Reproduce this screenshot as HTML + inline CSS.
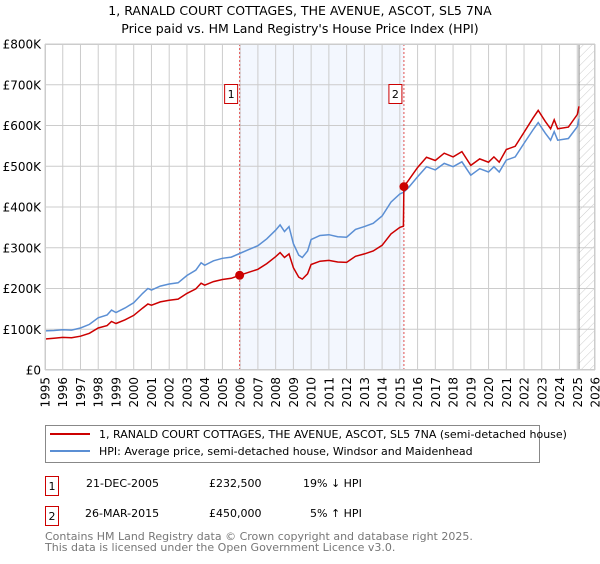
<!DOCTYPE html>
<html><head><meta charset="utf-8"><style>
body{margin:0;background:#fff;font-family:"DejaVu Sans","Liberation Sans",sans-serif;}
svg text{font-family:"DejaVu Sans","Liberation Sans",sans-serif;}
</style></head><body>
<svg id="chart" width="600" height="560" viewBox="0 0 600 560" xmlns="http://www.w3.org/2000/svg">
<defs>
<pattern id="hatch" patternUnits="userSpaceOnUse" width="6" height="6" patternTransform="rotate(45)">
<line x1="0" y1="0" x2="0" y2="6" stroke="#ccc" stroke-width="1"/></pattern>
</defs>
<text x="300" y="15" text-anchor="middle" font-size="12.5">1, RANALD COURT COTTAGES, THE AVENUE, ASCOT, SL5 7NA</text>
<text x="300" y="33" text-anchor="middle" font-size="12.5">Price paid vs. HM Land Registry's House Price Index (HPI)</text>
<g id="plot"></g>
<g>
<rect x="45.5" y="425.5" width="494" height="37" fill="#fff" stroke="#888"/>
<line x1="50" y1="434" x2="90" y2="434" stroke="#cc0000" stroke-width="2"/>
<text x="99" y="438" font-size="11">1, RANALD COURT COTTAGES, THE AVENUE, ASCOT, SL5 7NA (semi-detached house)</text>
<line x1="50" y1="451" x2="90" y2="451" stroke="#5b8fd4" stroke-width="2"/>
<text x="99" y="455" font-size="11">HPI: Average price, semi-detached house, Windsor and Maidenhead</text>
</g>
<g font-size="11">
<rect x="45.5" y="476.5" width="13" height="19" fill="#fff" stroke="#cc0000"/>
<text x="52" y="490" text-anchor="middle">1</text>
<text x="86" y="487">21-DEC-2005</text><text x="209" y="487">£232,500</text><text x="303" y="487">19% ↓ HPI</text>
<rect x="45.5" y="506.5" width="13" height="19" fill="#fff" stroke="#cc0000"/>
<text x="52" y="520" text-anchor="middle">2</text>
<text x="85" y="517">26-MAR-2015</text><text x="209" y="517">£450,000</text><text x="310" y="517">5% ↑ HPI</text>
</g>
<text x="45" y="540" font-size="11" fill="#777">Contains HM Land Registry data © Crown copyright and database right 2025.</text>
<text x="45" y="551" font-size="11" fill="#777">This data is licensed under the Open Government Licence v3.0.</text>
</svg>
<script>
const years=[1995,1995.5,1996,1996.5,1997,1997.5,1998,1998.5,1998.75,1999,1999.5,2000,2000.5,2000.8,2001,2001.5,2002,2002.5,2003,2003.5,2003.8,2004,2004.5,2005,2005.5,2005.97,2006.5,2007,2007.5,2008,2008.25,2008.5,2008.75,2009,2009.3,2009.5,2009.8,2010,2010.5,2011,2011.5,2012,2012.5,2013,2013.5,2014,2014.5,2015,2015.2,2015.23,2015.5,2016,2016.5,2017,2017.5,2018,2018.5,2019,2019.5,2020,2020.3,2020.6,2021,2021.5,2022,2022.5,2022.8,2023.2,2023.5,2023.7,2023.9,2024.5,2025,2025.1];
const hpi=[96,97,99,98,103,112,128,135,147,141,152,165,188,200,196,206,211,214,232,245,263,257,268,274,277,286,296,305,322,343,356,340,352,310,282,276,292,320,330,332,327,326,345,352,360,378,412,432,436,437,448,474,499,491,507,499,511,478,494,486,499,486,515,523,556,589,607,581,564,585,564,568,597,617];
const price=[76,78,80,79,83,90,103,109,119,114,123,134,152,162,159,167,171,174,188,199,213,208,217,222,225,232.5,240,247,261,278,288,276,285,251,228,223,236,259,267,269,265,264,279,285,292,306,334,350,353,450,466,497,522,514,532,523,536,502,518,510,523,510,541,549,583,618,637,610,592,614,592,596,627,647];
const yTicks=[0,100,200,300,400,500,600,700,800];
const yLabels=["£0","£100K","£200K","£300K","£400K","£500K","£600K","£700K","£800K"];
const xTicks=[1995,1996,1997,1998,1999,2000,2001,2002,2003,2004,2005,2006,2007,2008,2009,2010,2011,2012,2013,2014,2015,2016,2017,2018,2019,2020,2021,2022,2023,2024,2025,2026];
const saleYears=[2005.97,2015.23];
const salePrices=[232.5,450];
const saleLabels=["1","2"];
const L=45,R=595,T=44,B=370;
const X=v=>L+(v-1995)/(2026-1995)*(R-L);
const Y=v=>B-v/800*(B-T);
const NS="http://www.w3.org/2000/svg";
const g=document.getElementById('plot');
function mk(t,a,p){const e=document.createElementNS(NS,t);for(const k in a)e.setAttribute(k,a[k]);(p||g).appendChild(e);return e;}
let e;
e=mk('rect',{x:X(saleYears[0]),y:T,width:X(saleYears[1])-X(saleYears[0]),height:B-T,fill:'#eef3fd',opacity:0.7});


e=mk('rect',{x:X(2025.1),y:T,width:R-X(2025.1),height:B-T,fill:'url(#hatch)'});


yTicks.forEach((v,i)=>{
 e=mk('line',{x1:L,x2:R,y1:Y(v),y2:Y(v),stroke:'#ccc'});
 
 
 e=mk('text',{x:L-4,y:Y(v)+4.5,'text-anchor':'end','font-size':12});
 e.textContent=yLabels[i];
 
 
});
xTicks.forEach(v=>{
 e=mk('line',{x1:X(v),x2:X(v),y1:T,y2:B,stroke:'#ccc'});
 
 
 e=mk('text',{x:0,y:0,'text-anchor':'end','font-size':12,transform:`translate(${X(v)+4.5},377) rotate(-90)`});
 e.textContent=v;
 
 
});
e=mk('line',{x1:X(2025.1),x2:X(2025.1),y1:T,y2:B,stroke:'#888','stroke-width':1});


saleYears.forEach((s,i)=>{
 e=mk('line',{x1:X(s),x2:X(s),y1:T,y2:B,stroke:'#e05050','stroke-dasharray':'2,2','stroke-width':1});
 
 
 e=mk('rect',{x:X(s)-15,y:84.5,width:13,height:19,fill:'#fff',stroke:'#cc0000'});
 
 
 e=mk('text',{x:X(s)-8.5,y:98,'text-anchor':'middle','font-size':11});
 e.textContent=saleLabels[i];
 
 
});
const pts=a=>years.map((y,i)=>X(y).toFixed(1)+','+Y(a[i]).toFixed(1)).join(' ');
e=mk('polyline',{points:pts(hpi),fill:'none',stroke:'#5b8fd4','stroke-width':1.5});


e=mk('polyline',{points:pts(price),fill:'none',stroke:'#cc0000','stroke-width':1.5});


saleYears.forEach((s,i)=>{
 e=mk('circle',{cx:X(s),cy:Y(salePrices[i]),r:4.5,fill:'#cc0000'});
 
 
});
e=mk('rect',{x:L+0.5,y:T+0.5,width:R-L-1,height:B-T-1,fill:'none',stroke:'#ccc'});


</script>
</body></html>
